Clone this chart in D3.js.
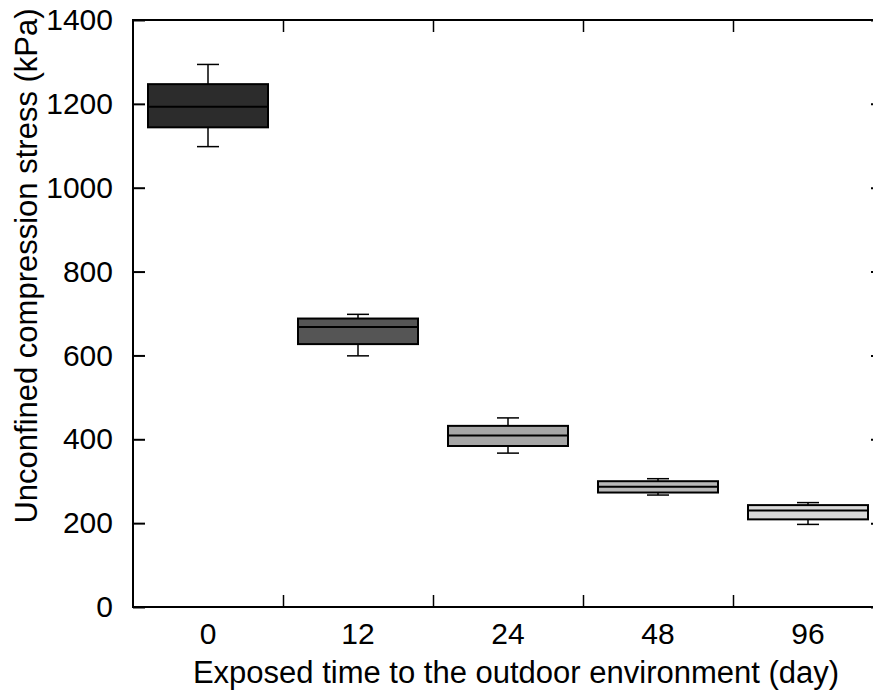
<!DOCTYPE html>
<html><head><meta charset="utf-8">
<script src="https://cdn.jsdelivr.net/npm/d3@7"></script>
<style>body{margin:0;background:#fff;} svg{display:block;}</style>
</head><body>
<svg id="c" width="873" height="694"></svg>
<script>
const categories = ["0","12","24","48","96"];
const q1 = [1144, 627, 384, 273, 209];
const median = [1193, 668, 409, 287, 230];
const q3 = [1247, 688, 432, 300, 243];
const whiskLow = [1098, 599, 367, 267, 197];
const whiskHigh = [1294, 698, 451, 306, 249];
const fills = ["#2c2c2c", "#555555", "#a6a6a6", "#b8b8b8", "#dadada"];
const yTicks = [0, 200, 400, 600, 800, 1000, 1200, 1400];

const svg = d3.select("#c");
const L = 133, R = 883, T = 20, B = 607;
const x = d3.scaleBand().domain(categories).range([L, R]).paddingInner(0.2).paddingOuter(0.1);
const xb = d3.scaleLinear().domain([0, categories.length]).range([L, R]);
const y = d3.scaleLinear().domain([0, 1400]).range([B, T]);
const font = "Liberation Sans, Arial, sans-serif";

// boxes
const bw = x.bandwidth();
const cx = i => x(categories[i]) + bw / 2;
const g = svg.append("g");
categories.forEach((c, i) => {
  const capW = 22;
  g.append("line").attr("x1", cx(i)).attr("x2", cx(i)).attr("y1", y(whiskHigh[i])).attr("y2", y(q3[i]))
    .attr("stroke", "#000").attr("stroke-width", 1.5);
  g.append("line").attr("x1", cx(i)).attr("x2", cx(i)).attr("y1", y(whiskLow[i])).attr("y2", y(q1[i]))
    .attr("stroke", "#000").attr("stroke-width", 1.5);
  g.append("line").attr("x1", cx(i) - capW / 2).attr("x2", cx(i) + capW / 2).attr("y1", y(whiskHigh[i])).attr("y2", y(whiskHigh[i]))
    .attr("stroke", "#000").attr("stroke-width", 1.5);
  g.append("line").attr("x1", cx(i) - capW / 2).attr("x2", cx(i) + capW / 2).attr("y1", y(whiskLow[i])).attr("y2", y(whiskLow[i]))
    .attr("stroke", "#000").attr("stroke-width", 1.5);
  g.append("rect").attr("x", x(c)).attr("width", bw).attr("y", y(q3[i])).attr("height", y(q1[i]) - y(q3[i]))
    .attr("fill", fills[i]).attr("stroke", "#000").attr("stroke-width", 2);
  g.append("line").attr("x1", x(c)).attr("x2", x(c) + bw).attr("y1", y(median[i])).attr("y2", y(median[i]))
    .attr("stroke", "#000").attr("stroke-width", 2);
});

// frame
svg.append("rect").attr("x", L).attr("y", T).attr("width", R - L).attr("height", B - T)
  .attr("fill", "none").attr("stroke", "#000").attr("stroke-width", 2);

// y axis ticks (both sides, inward)
const yAxisL = d3.axisLeft(y).tickValues(yTicks).tickSize(-12).tickPadding(20).tickFormat(d3.format("d"));
const gyl = svg.append("g").attr("transform", `translate(${L},0)`).call(yAxisL);
gyl.select(".domain").remove();
gyl.selectAll("line").attr("stroke", "#000").attr("stroke-width", 2);
gyl.selectAll("text").attr("font-family", font).attr("font-size", 30).attr("fill", "#000");

const yAxisR = d3.axisRight(y).tickValues(yTicks).tickSize(-12).tickFormat("");
const gyr = svg.append("g").attr("transform", `translate(${R},0)`).call(yAxisR);
gyr.select(".domain").remove();
gyr.selectAll("line").attr("stroke", "#000").attr("stroke-width", 2);

// x boundary ticks top and bottom
const bounds = d3.range(1, categories.length);
const xAxisB = d3.axisBottom(xb).tickValues(bounds).tickSize(-12).tickFormat("");
const gxb = svg.append("g").attr("transform", `translate(0,${B})`).call(xAxisB);
gxb.select(".domain").remove();
gxb.selectAll("line").attr("stroke", "#000").attr("stroke-width", 1.5);
const xAxisT = d3.axisTop(xb).tickValues(bounds).tickSize(-12).tickFormat("");
const gxt = svg.append("g").attr("transform", `translate(0,${T})`).call(xAxisT);
gxt.select(".domain").remove();
gxt.selectAll("line").attr("stroke", "#000").attr("stroke-width", 1.5);

// category labels
const xAxisLab = d3.axisBottom(x).tickSize(0).tickPadding(16);
const gxl = svg.append("g").attr("transform", `translate(0,${B})`).call(xAxisLab);
gxl.select(".domain").remove();
gxl.selectAll("text").attr("font-family", font).attr("font-size", 30).attr("fill", "#000");

// titles
svg.append("text").attr("x", 516).attr("y", 683).attr("text-anchor", "middle")
  .attr("font-family", font).attr("font-size", 31).attr("fill", "#000")
  .text("Exposed time to the outdoor environment (day)");
svg.append("text").attr("transform", "translate(37,266) rotate(-90)").attr("text-anchor", "middle")
  .attr("font-family", font).attr("font-size", 31).attr("fill", "#000")
  .text("Unconfined compression stress (kPa)");
</script>
</body></html>
